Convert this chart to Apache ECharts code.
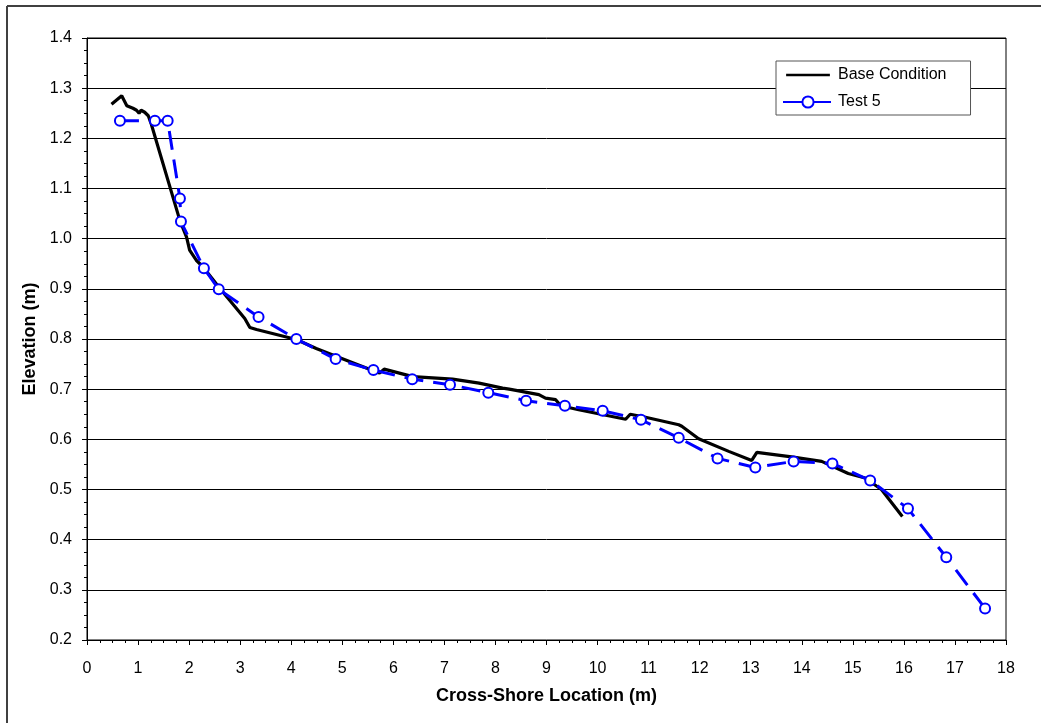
<!DOCTYPE html>
<html>
<head>
<meta charset="utf-8">
<script src="https://cdn.jsdelivr.net/npm/echarts@6/dist/echarts.min.js"></script>
<style>
html,body{margin:0;padding:0;background:#fff;}
#chart{width:1050px;height:723px;}
</style>
</head>
<body>
<div id="chart"></div>
<script>
// ---- data ----
var seriesNames = ['Base Condition', 'Test 5'];
var baseX = [0.48,0.68,0.78,0.90,0.97,1.02,1.06,1.13,1.20,1.26,1.82,1.95,2.01,2.14,2.27,2.60,3.09,3.19,3.32,4.10,4.49,4.94,5.47,5.73,5.82,6.38,7.16,7.68,8.14,8.27,8.85,8.98,9.18,9.28,9.63,10.55,10.64,10.94,11.59,11.65,11.98,12.57,13.02,13.12,13.80,14.39,14.91,15.24,15.56,15.97];
var baseY = [1.268,1.285,1.265,1.260,1.256,1.250,1.256,1.252,1.245,1.228,1.036,1.003,0.977,0.957,0.944,0.901,0.841,0.823,0.819,0.799,0.781,0.763,0.742,0.732,0.740,0.725,0.720,0.712,0.702,0.700,0.689,0.682,0.679,0.667,0.659,0.640,0.650,0.644,0.629,0.626,0.601,0.576,0.558,0.574,0.565,0.556,0.532,0.523,0.500,0.446];
var testX = [0.645,1.33,1.58,1.82,1.84,2.29,2.58,3.36,4.10,4.87,5.61,6.37,7.11,7.86,8.60,9.36,10.10,10.85,11.59,12.35,13.09,13.84,14.60,15.34,16.08,16.83,17.59];
var testY = [1.235,1.235,1.235,1.080,1.034,0.941,0.899,0.844,0.800,0.760,0.738,0.720,0.709,0.693,0.677,0.667,0.657,0.639,0.603,0.562,0.544,0.556,0.552,0.518,0.462,0.365,0.263];
var xTitle = 'Cross-Shore Location (m)';
var yTitle = 'Elevation (m)';

function pairs(xs, ys){ return xs.map(function(x,i){ return [x, ys[i]]; }); }

var FONT = '"Liberation Sans", Arial, sans-serif';
// plain line legend icon (tiny corner specks keep the bar thin after scaling)
var LINE_ICON = 'path://M0,6.5h50v3h-50z M0,0h0.01v0.01h-0.01z M49.99,15.99h0.01v0.01h-0.01z';

var chart = echarts.init(document.getElementById('chart'), null, {renderer:'canvas'});
chart.setOption({
  animation: false,
  backgroundColor: '#fff',
  textStyle: {fontFamily: FONT, color: '#000'},
  grid: {left: 87, right: 44, top: 38, bottom: 83, show: true, borderColor: '#000', borderWidth: 1, backgroundColor: 'transparent'},
  graphic: [
    {type: 'line', shape: {x1: 7, y1: 6, x2: 1041, y2: 6}, style: {stroke: '#404040', lineWidth: 2}, silent: true},
    {type: 'line', shape: {x1: 7, y1: 6, x2: 7, y2: 723}, style: {stroke: '#404040', lineWidth: 2}, silent: true}
  ],
  legend: {
    left: 776, top: 61, orient: 'vertical',
    backgroundColor: '#fff',
    borderColor: '#555', borderWidth: 1,
    padding: [6, 24, 5, 6],
    itemWidth: 50, itemHeight: 14, itemGap: 11,
    textStyle: {fontFamily: FONT, fontSize: 16, color: '#000'},
    data: [
      {name: seriesNames[0], icon: LINE_ICON, itemStyle: {color: '#000'}},
      {name: seriesNames[1]}
    ]
  },
  xAxis: {
    type: 'value', min: 0, max: 18, interval: 1,
    name: xTitle, nameLocation: 'middle', nameGap: 47,
    nameTextStyle: {fontFamily: FONT, fontSize: 18, fontWeight: 'bold', color: '#000'},
    axisLine: {lineStyle: {color: '#000', width: 1}},
    axisTick: {show: true, inside: false, length: 5, lineStyle: {color: '#000'}},
    minorTick: {show: true, splitNumber: 4, length: 3, lineStyle: {color: '#000'}},
    axisLabel: {fontFamily: FONT, fontSize: 16, color: '#000', margin: 21},
    splitLine: {show: false}
  },
  yAxis: {
    type: 'value', min: 0.2, max: 1.4, interval: 0.1,
    name: yTitle, nameLocation: 'middle', nameGap: 44, nameRotate: 90,
    nameTextStyle: {fontFamily: FONT, fontSize: 18, fontWeight: 'bold', color: '#000'},
    axisLine: {show: true, lineStyle: {color: '#000', width: 1}},
    axisTick: {show: true, inside: false, length: 5, lineStyle: {color: '#000'}},
    minorTick: {show: true, splitNumber: 4, length: 3, lineStyle: {color: '#000'}},
    axisLabel: {fontFamily: FONT, fontSize: 16, color: '#000', margin: 15,
      formatter: function(v){ return v.toFixed(1); }},
    splitLine: {show: true, lineStyle: {color: '#000', width: 1}}
  },
  series: [
    {
      name: seriesNames[0], type: 'line', data: pairs(baseX, baseY),
      showSymbol: false, symbol: 'none',
      lineStyle: {color: '#000', width: 3.2},
      itemStyle: {color: '#000'},
      z: 3
    },
    {
      name: seriesNames[1], type: 'line', data: pairs(testX, testY),
      symbol: 'emptyCircle', symbolSize: 10, showSymbol: true,
      lineStyle: {color: '#0000ff', width: 3, type: [19, 10]},
      itemStyle: {color: '#0000ff', borderColor: '#0000ff', borderWidth: 1.5},
      z: 4
    }
  ]
});
</script>
</body>
</html>
